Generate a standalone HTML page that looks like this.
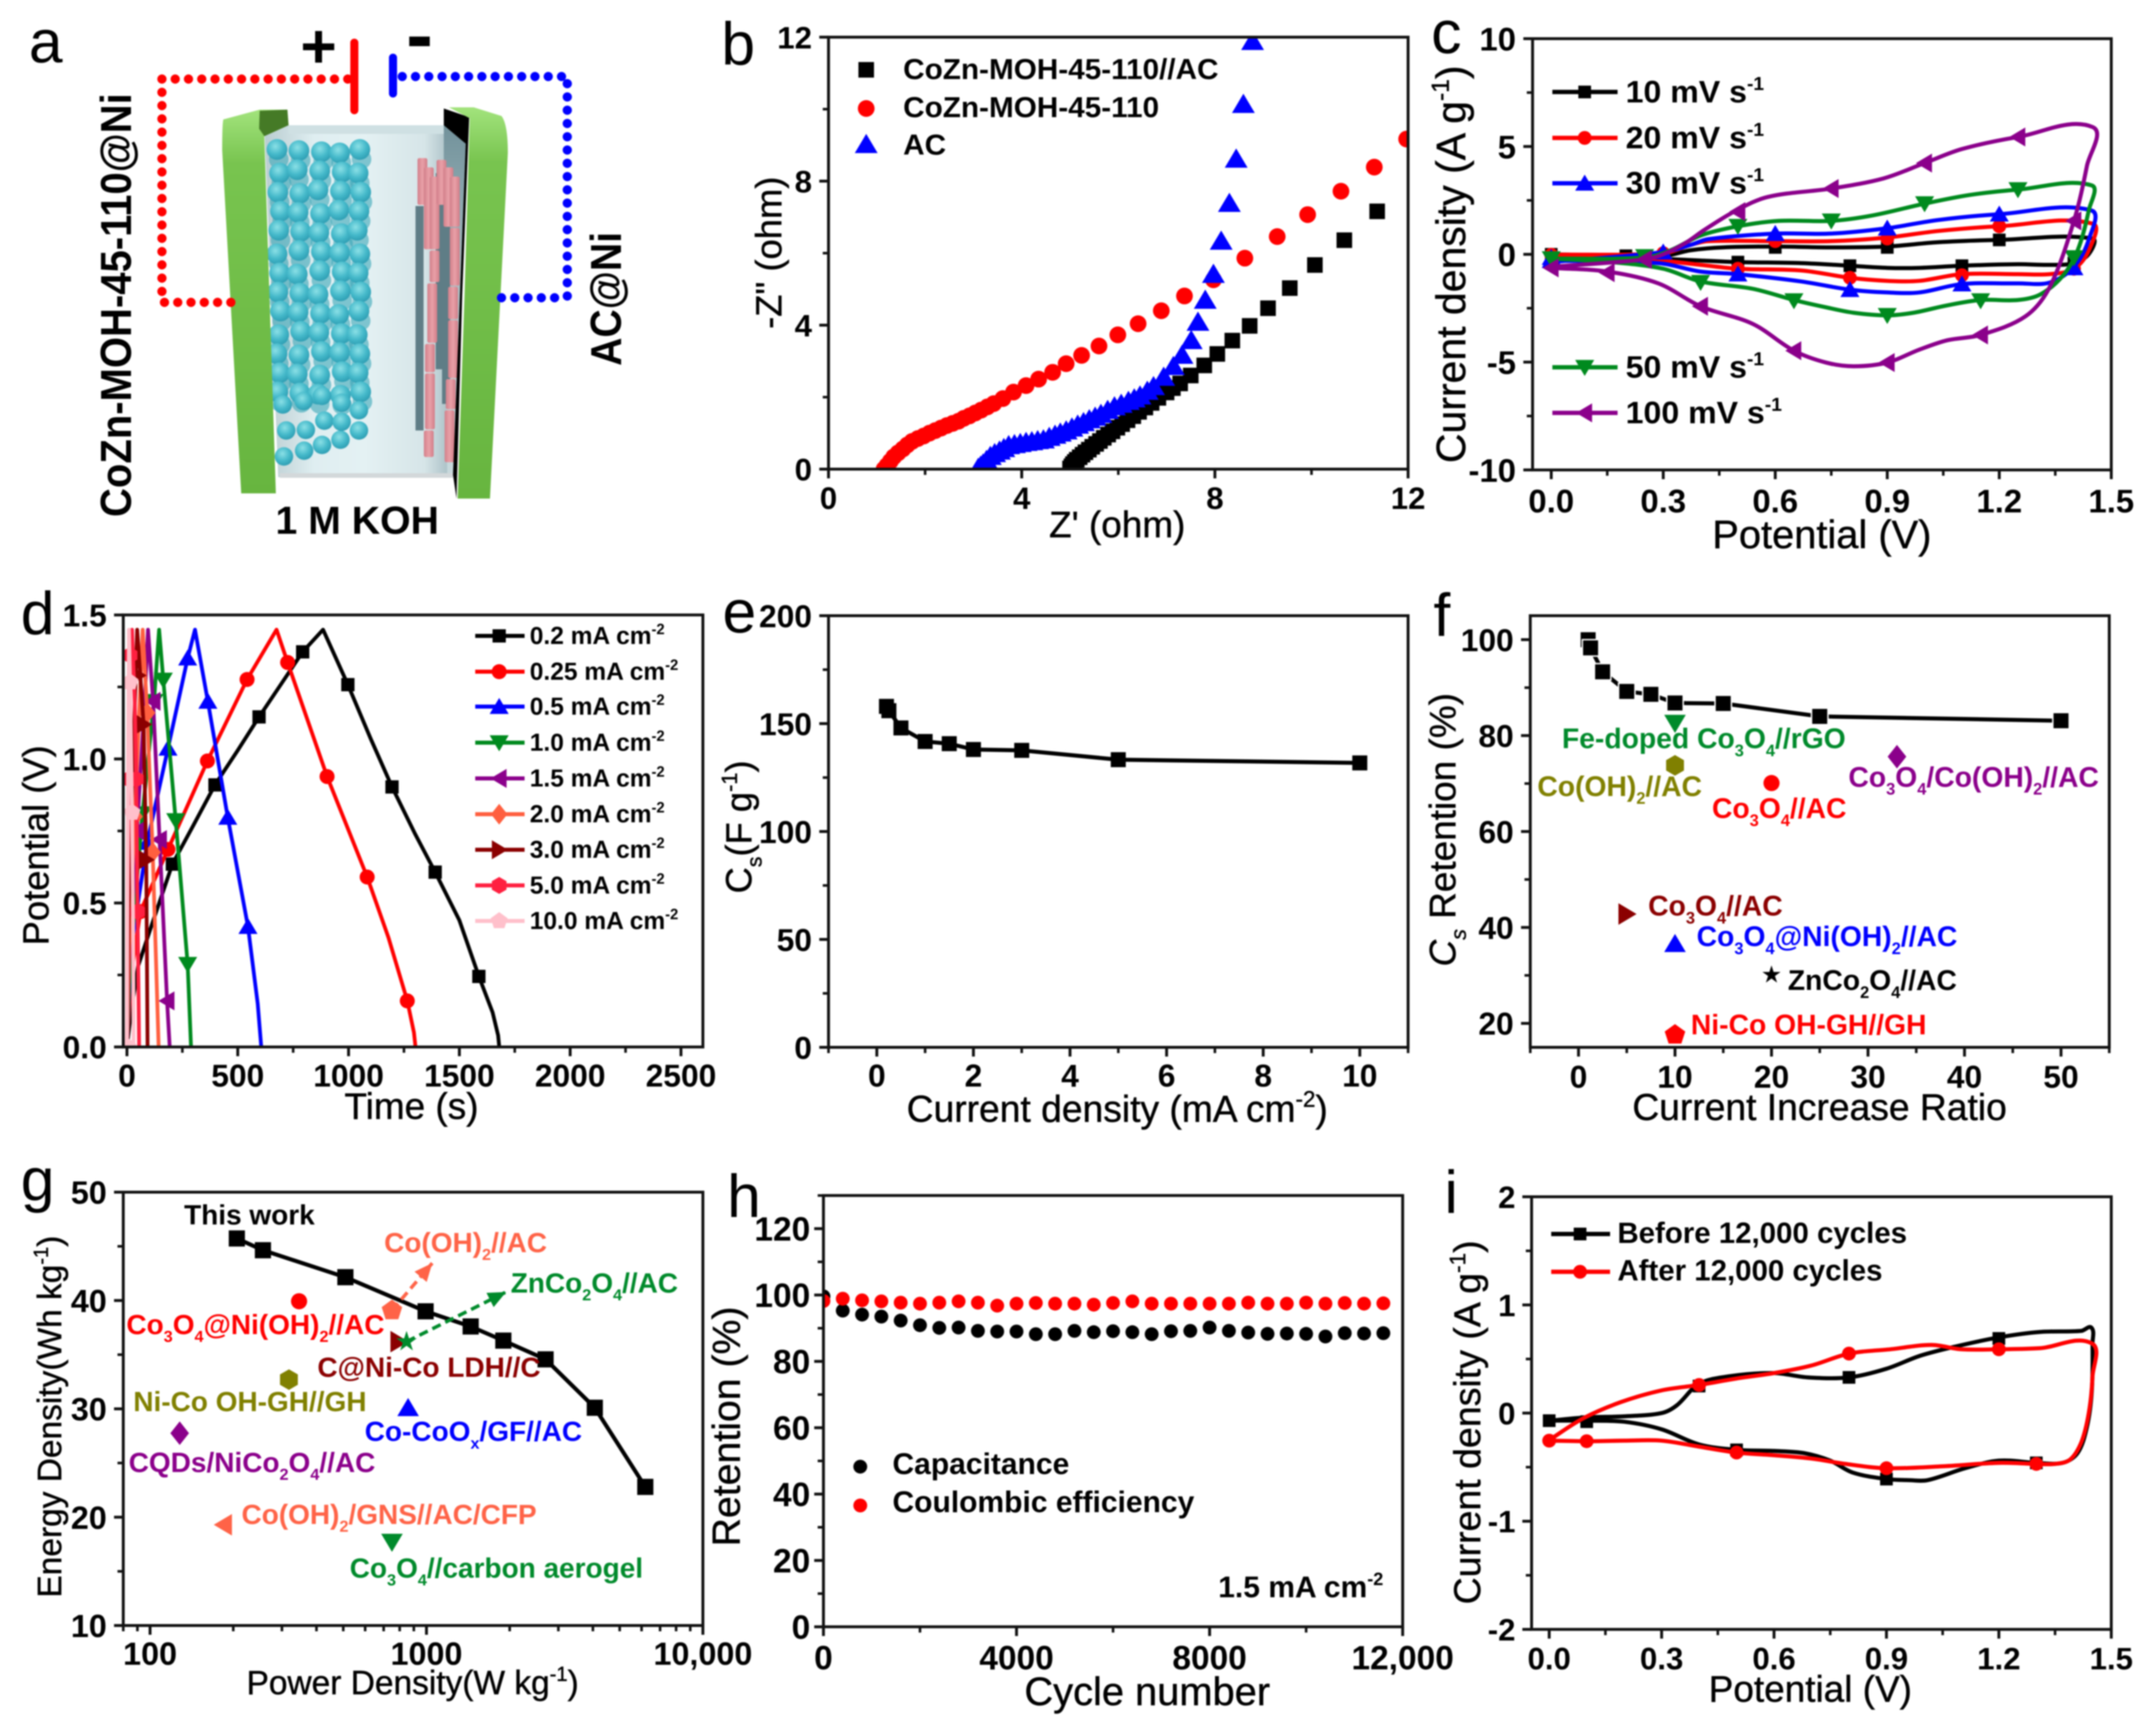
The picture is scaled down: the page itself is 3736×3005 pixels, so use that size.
<!DOCTYPE html>
<html lang="en">
<head>
<meta charset="utf-8">
<title>Supercapacitor figure panels a-i</title>
<style>
html,body{margin:0;padding:0;background:#fff;}
body{width:3736px;height:3005px;overflow:hidden;}
#figure{display:block;filter:blur(1.3px);font-family:"Liberation Sans",sans-serif;}
</style>
</head>
<body>
<svg id="figure" xmlns="http://www.w3.org/2000/svg" width="3736" height="3005" viewBox="0 0 3736 3005">
<defs>
<linearGradient id="plate-left" x1="0" y1="0" x2="0" y2="1"><stop offset="0" stop-color="#a2e37c"/><stop offset=".14" stop-color="#78c44f"/><stop offset="1" stop-color="#67b53f"/></linearGradient>
<linearGradient id="electrolyte" x1="0" y1="0" x2="1" y2="0"><stop offset="0" stop-color="#b9ccd0"/><stop offset=".25" stop-color="#dfeef1"/><stop offset=".5" stop-color="#e4f1f3"/><stop offset=".8" stop-color="#d6e5e8"/><stop offset="1" stop-color="#8fa9b0"/></linearGradient>
<linearGradient id="right-shade" x1="0" y1="0" x2="0" y2="1"><stop offset="0" stop-color="#72929b"/><stop offset=".45" stop-color="#a9bfc4"/><stop offset="1" stop-color="#c8d9dc"/></linearGradient>
<radialGradient id="ball" cx=".42" cy=".35" r=".65"><stop offset="0" stop-color="#8be0e6"/><stop offset=".6" stop-color="#45b9ca"/><stop offset="1" stop-color="#2f9fb4"/></radialGradient>
<linearGradient id="rod" x1="0" y1="0" x2="1" y2="0"><stop offset="0" stop-color="#d27f8a"/><stop offset=".5" stop-color="#e9a1a8"/><stop offset="1" stop-color="#d17d88"/></linearGradient>
</defs>
<g id="panel-a">
<polygon points="458,217 805,217 785,827 482,827" fill="url(#electrolyte)"/>
<polygon points="500,217 770,217 770,232 500,232" fill="#cfe0e3"/>
<polygon points="769,217 807,249 797,510 785,823 775,823 769,420" fill="url(#right-shade)"/>
<rect x="485" y="820" width="300" height="8" fill="#d3d8da"/>
<g id="a-balls"></g>
<g id="a-rods"></g>
<path d="M387,207 L450,190 L498,190 L500,217 L458,236 L478,855 L418,855 L385,260 Q385,215 387,207 Z" fill="url(#plate-left)"/>
<polygon points="450,192 498,190 500,217 458,236 449,223" fill="#457a26"/>
<polygon points="769,188 813,203 801,510 791,864 785,823 797,510 807,249 769,217" fill="#000"/>
<path d="M778,186 L821,186 L869,201 Q880,215 880,265 L849,864 L793,864 L805,510 L814,205 Z" fill="url(#plate-left)"/>
<line x1="614" y1="74" x2="614" y2="191" stroke="#ff0000" stroke-width="14" stroke-linecap="round"/>
<line x1="681" y1="100" x2="681" y2="162" stroke="#0000ff" stroke-width="14" stroke-linecap="round"/>
<g id="a-red-wire"></g>
<g id="a-blue-wire"></g>
<text x="552" y="117" text-anchor="middle" font-size="108" font-weight="700" fill="#000">+</text>
<text x="727" y="108" text-anchor="middle" font-size="140" font-weight="700" fill="#000">-</text>
<text transform="translate(227,896) rotate(-90) scale(.925,1)" font-size="75" font-weight="700" fill="#000">CoZn-MOH-45-110@Ni</text>
<text transform="translate(1076,634) rotate(-90) scale(.905,1)" font-size="75" font-weight="700" fill="#000">AC@Ni</text>
<text x="619" y="925" text-anchor="middle" font-size="68" font-weight="700" fill="#000">1 M KOH</text>
<text x="50" y="108" font-size="105" fill="#000">a</text>
</g>
<g id="charts"></g>
</svg>
<script>
/* ---------- panel b ---------- */
const bXTicks=[0,4,8,12];
const bXLabels=['0','4','8','12'];
const bXMinor=[2,6,10];
const bYTicks=[0,4,8,12];
const bYLabels=['0','4','8','12'];
const bYMinor=[2,6,10];
const bDevice=[[5.00,0.02],[5.03,0.08],[5.06,0.14],[5.1,0.2],[5.14,0.26],[5.2,0.33],[5.26,0.40],[5.32,0.47],[5.39,0.54],[5.46,0.62],[5.54,0.70],[5.62,0.78],[5.7,0.87],[5.79,0.96],[5.88,1.05],[5.98,1.15],[6.08,1.25],[6.19,1.36],[6.31,1.47],[6.43,1.59],[6.56,1.71],[6.69,1.84],[6.83,1.98],[7.0,2.13],[7.13,2.25],[7.28,2.38],[7.5,2.6],[7.78,2.88],[8.05,3.2],[8.36,3.57],[8.72,3.98],[9.1,4.47],[9.55,5.03],[10.07,5.67],[10.68,6.36],[11.36,7.16]];
const bMoh=[[1.15,0],[1.21,.1],[1.28,.22],[1.35,.34],[1.44,.45],[1.54,.56],[1.63,.67],[1.73,.77],[1.85,.85],[1.97,.92],[2.09,1.0],[2.21,1.07],[2.33,1.14],[2.45,1.21],[2.57,1.27],[2.69,1.33],[2.8,1.41],[2.92,1.48],[3.04,1.56],[3.16,1.64],[3.29,1.73],[3.42,1.82],[3.61,1.96],[3.83,2.14],[4.09,2.32],[4.35,2.5],[4.64,2.69],[4.92,2.93],[5.24,3.16],[5.6,3.42],[5.99,3.73],[6.41,4.04],[6.89,4.4],[7.37,4.81],[7.97,5.26],[8.62,5.86],[9.29,6.46],[9.92,7.07],[10.61,7.72],[11.3,8.39],[11.97,9.17]];
const bAc=[[3.1,.03],[3.15,.09],[3.2,.15],[3.27,.25],[3.35,.36],[3.44,.44],[3.54,.51],[3.63,.58],[3.73,.66],[3.85,.69],[3.97,.72],[4.09,.75],[4.21,.77],[4.33,.8],[4.45,.82],[4.57,.89],[4.69,.95],[4.8,1.01],[4.92,1.07],[5.04,1.15],[5.16,1.23],[5.28,1.3],[5.4,1.38],[5.52,1.45],[5.64,1.53],[5.78,1.64],[5.92,1.74],[6.06,1.81],[6.21,1.89],[6.33,1.96],[6.45,2.04],[6.6,2.17],[6.73,2.3],[6.94,2.56],[7.14,2.86],[7.32,3.17],[7.51,3.58],[7.65,4.09],[7.8,4.7],[7.97,5.42],[8.13,6.34],[8.3,7.39],[8.44,8.62],[8.59,10.14],[8.78,11.89]];
/* ---------- panel c ---------- */
const cXTicks=[0,.3,.6,.9,1.2,1.5];
const cXLabels=['0.0','0.3','0.6','0.9','1.2','1.5'];
const cXMinor=[.15,.45,.75,1.05,1.35];
const cYTicks=[-10,-5,0,5,10];
const cYLabels=['-10','-5','0','5','10'];
const cYMinor=[-7.5,-2.5,2.5,7.5];
const c10Line=[[0,0],[.3,-.07],[.374,.19],[.46,.32],[.6,.36],[.75,.32],[.9,.36],[1.036,.56],[1.2,.67],[1.45,.73],[1.44,.02],[1.4,-.41],[1.335,-.49],[1.25,-.46],[1.1,-.53],[.986,-.63],[.9,-.63],[.8,-.53],[.67,-.41],[.5,-.36],[.4,-.29],[.287,-.2],[0,-.03]];
const c10Marks=[[0,0],[.2,-.07],[.6,.32],[.9,.32],[1.2,.67],[1.4,-.41],[1.1,-.53],[.8,-.53],[.5,-.36]];
const c20Line=[[0,-.02],[.3,.05],[.374,.44],[.42,.61],[.6,.61],[.75,.61],[.9,.78],[1.036,1.08],[1.2,1.3],[1.45,1.42],[1.44,.19],[1.4,-.67],[1.335,-.92],[1.25,-.92],[1.1,-.92],[.986,-1.23],[.9,-1.23],[.8,-1.09],[.67,-.75],[.5,-.67],[.4,-.49],[.287,-.29],[0,-.15]];
const c20Marks=[[0,-.02],[.3,.05],[.6,.61],[.9,.73],[1.2,1.3],[1.4,-.67],[1.1,-.97],[.8,-1.09],[.5,-.67]];
const c30Line=[[0,-.36],[.3,.1],[.374,.44],[.42,.7],[.6,.96],[.75,.96],[.9,1.21],[1.036,1.59],[1.2,1.86],[1.447,2.03],[1.44,.7],[1.4,-.58],[1.335,-1.31],[1.25,-1.35],[1.1,-1.38],[.986,-1.77],[.9,-1.77],[.8,-1.64],[.67,-1.26],[.5,-.92],[.4,-.8],[.287,-.41],[0,-.29]];
const c30Marks=[[0,-.15],[.3,.1],[.6,.96],[.9,1.21],[1.2,1.86],[1.4,-.63],[1.1,-1.38],[.8,-1.64],[.5,-.92],[0,-.29]];
const c50Line=[[0,-.2],[.25,-.15],[.32,.19],[.4,.87],[.5,1.3],[.61,1.55],[.75,1.55],[.86,1.8],[1.0,2.35],[1.12,2.75],[1.25,3.0],[1.447,3.2],[1.44,2.06],[1.41,.19],[1.37,-1.0],[1.31,-1.86],[1.25,-2.12],[1.15,-2.12],[1.06,-2.37],[.97,-2.71],[.9,-2.83],[.81,-2.71],[.736,-2.46],[.65,-2.12],[.54,-1.6],[.4,-1.26],[.3,-.67],[.16,-.36],[0,-.2]];
const c50Marks=[[0,-.2],[.25,-.1],[.5,1.3],[.75,1.55],[1.0,2.35],[1.25,3.0],[1.4,-.15],[1.15,-2.15],[.9,-2.83],[.65,-2.15],[.4,-1.3]];
const c100Line=[[0,-.58],[.25,-.24],[.3,0],[.36,.53],[.41,1.13],[.49,1.98],[.58,2.66],[.75,3.05],[.89,3.52],[1.0,4.23],[1.1,4.88],[1.25,5.44],[1.45,5.9],[1.435,4.11],[1.4,1.55],[1.335,-1.52],[1.27,-2.88],[1.15,-3.74],[1.06,-3.99],[.986,-4.42],[.9,-5.02],[.81,-5.19],[.736,-5.02],[.65,-4.47],[.54,-3.23],[.4,-2.41],[.287,-1.35],[.15,-.8],[0,-.63]];
const c100Marks=[[.25,-.24],[.5,1.98],[.75,3.05],[1.0,4.23],[1.25,5.44],[1.4,1.55],[1.15,-3.74],[.9,-5.02],[.65,-4.47],[.4,-2.41],[.15,-.85],[0,-.63]];
/* ---------- panel d ---------- */
const dXTicks=[0,500,1000,1500,2000,2500];
const dXLabels=['0','500','1000','1500','2000','2500'];
const dXMinor=[250,750,1250,1750,2250];
const dYTicks=[0,.5,1,1.5];
const dYLabels=['0.0','0.5','1.0','1.5'];
const dYMinor=[.25,.75,1.25];
const d02Line=[[0,0],[15,.1],[50,.28],[110,.42],[205,.635],[300,.77],[397,.91],[500,1.03],[596,1.146],[700,1.265],[793,1.372],[885,1.449],[940,1.355],[997,1.258],[1100,1.07],[1196,.903],[1300,.74],[1391,.607],[1500,.44],[1588,.245],[1650,.12],[1675,.04],[1680,0]];
const d02Marks=[[205,.635],[397,.91],[596,1.146],[793,1.372],[997,1.258],[1196,.903],[1391,.607],[1588,.245]];
const d025Line=[[0,0],[20,.25],[60,.47],[185,.686],[363,.993],[542,1.276],[675,1.449],[725,1.335],[903,.939],[1084,.59],[1180,.38],[1265,.16],[1295,.05],[1302,0]];
const d025Marks=[[60,.47],[185,.686],[363,.993],[542,1.276],[725,1.335],[903,.939],[1084,.59],[1265,.16]];
const d05Line=[[0,0],[20,.35],[91,.71],[185,1.037],[274,1.35],[307,1.449],[365,1.2],[455,.797],[546,.418],[590,.15],[606,0]];
const d05Marks=[[91,.71],[185,1.037],[274,1.35],[365,1.2],[455,.797],[546,.418]];
const d10Line=[[0,0],[15,.3],[70,.81],[122,1.2],[145,1.449],[164,1.274],[220,.786],[274,.287],[289,0]];
const d10Marks=[[70,.81],[122,1.2],[164,1.274],[220,.786],[274,.287]];
const d15Line=[[0,0],[10,.3],[45,.75],[80,1.2],[95,1.449],[118,1.2],[147,.72],[181,.16],[193,0]];
const d15Marks=[[45,.75],[118,1.2],[147,.72],[181,.16]];
const d20Line=[[0,0],[10,.35],[35,.8],[60,1.25],[71,1.449],[91,1.16],[116,.676],[143,0]];
const d20Marks=[[35,.8],[91,1.16],[116,.676]];
const d30Line=[[0,0],[8,.5],[30,1.05],[46,1.449],[60,1.29],[75,1.12],[87,.65],[93,0]];
const d30Marks=[[50,1.29],[75,1.12],[87,.65]];
const d50Line=[[0,0],[3,.5],[8,1.0],[14,1.25],[23,1.449],[35,1.2],[42,.93],[48,.47],[55,0]];
const d50Marks=[[8,.93],[14,1.36],[42,.93],[48,.47]];
const d100Line=[[0,0],[2,.5],[5,1.0],[9,1.449],[14,1.267],[23,.814],[28,.4],[30,0]];
const d100Marks=[[14,1.267],[23,.814],[5,0]];
/* ---------- panel e ---------- */
const eXTicks=[0,2,4,6,8,10];
const eXLabels=['0','2','4','6','8','10'];
const eXMinor=[-1,1,3,5,7,9,11];
const eYTicks=[0,50,100,150,200];
const eYLabels=['0','50','100','150','200'];
const eYMinor=[25,75,125,175];
const eCurrent=[.2,.25,.5,1,1.5,2,3,5,10];
const eCapacitance=[158,156,148,141.7,140.7,138,137.6,133.3,131.8];
/* ---------- panel f ---------- */
const fXTicks=[0,10,20,30,40,50];
const fXLabels=['0','10','20','30','40','50'];
const fXMinor=[-5,5,15,25,35,45,55];
const fYTicks=[20,40,60,80,100];
const fYLabels=['20','40','60','80','100'];
const fYMinor=[30,50,70,90];
const fRatio=[1,1.25,2.5,5,7.5,10,15,25,50];
const fRetention=[100,98.3,93.3,89.2,88.6,86.8,86.7,84,83.1];
const fOtherRatio=[10,10,20,33,5,10,20,10];
const fOtherRetention=[82.6,73.8,70.1,75.6,42.8,36.6,30.1,17.6];
const fOtherNames=['fe-doped-co3o4','co-oh2','co3o4-red','co3o4-coh2','co3o4-darkred','co3o4-nioh2','znco2o4','ni-co-oh-gh'];
/* ---------- panel g ---------- */
const gXTicks=[100,1000,10000];
const gXLabels=['100','1000','10,000'];
const gXMinor=[80,90,200,300,400,500,600,700,800,900,2000,3000,4000,5000,6000,7000,8000,9000];
const gYTicks=[10,20,30,40,50];
const gYLabels=['10','20','30','40','50'];
const gYMinor=[15,25,35,45];
const gPower=[206,256,509,993,1445,1897,2697,4064,6190];
const gEnergy=[45.73,44.64,42.15,39,37.6,36.3,34.57,30.1,22.8];
const gOtherPower=[346,750,794,847,318,858,128,184.5,750];
const gOtherEnergy=[39.93,39.08,36.2,36.2,32.7,30.1,27.75,19.3,17.7];
const gOtherNames=['co3o4-nioh2','co-oh2','c-ni-co-ldh','znco2o4','ni-co-oh-gh','co-coox','cqds-nico2o4','co-oh2-gns','co3o4-aerogel'];
/* ---------- panel h ---------- */
const hXTicks=[0,4000,8000,12000];
const hXLabels=['0','4000','8000','12,000'];
const hXMinor=[2000,6000,10000];
const hYTicks=[0,20,40,60,80,100,120];
const hYLabels=['0','20','40','60','80','100','120'];
const hYMinor=[10,30,50,70,90,110,130];
const hCycles=[0,400,800,1200,1600,2000,2400,2800,3200,3600,4000,4400,4800,5200,5600,6000,6400,6800,7200,7600,8000,8400,8800,9200,9600,10000,10400,10800,11200,11600];
const hCapacitance=[99.6,95.3,94.1,93.5,92.3,90.9,90.1,90.2,89.2,89,89,88.2,88.2,89.2,88.8,89.1,88.8,88.2,89.1,89.2,90.2,89.2,88.7,88.3,88.4,88.3,87.5,88.5,88.4,88.5];
const hCoulombic=[98.2,98.9,98.4,98.1,97.7,97.4,97.7,98.1,97.7,96.8,97.4,97.6,97.4,97.4,97.1,97.6,98.1,97.4,97.4,97.4,97.4,97.4,97.7,97.4,97.4,97.7,97.4,97.6,97.4,97.5];
/* ---------- panel i ---------- */
const iXTicks=[0,.3,.6,.9,1.2,1.5];
const iXLabels=['0.0','0.3','0.6','0.9','1.2','1.5'];
const iXMinor=[.15,.45,.75,1.05,1.35];
const iYTicks=[-2,-1,0,1,2];
const iYLabels=['-2','-1','0','1','2'];
const iYMinor=[-1.5,-.5,.5,1.5];
const iBeforeLine=[[0,-.07],[.1,-.04],[.2,-.03],[.3,0],[.34,.07],[.4,.27],[.48,.34],[.6,.37],[.69,.33],[.8,.33],[.9,.41],[.99,.53],[1.09,.62],[1.2,.7],[1.31,.75],[1.42,.76],[1.447,.79],[1.45,.65],[1.448,.2],[1.435,-.13],[1.41,-.37],[1.37,-.46],[1.3,-.46],[1.2,-.44],[1.11,-.51],[1.01,-.62],[.96,-.62],[.9,-.61],[.81,-.55],[.75,-.44],[.68,-.37],[.6,-.35],[.5,-.34],[.4,-.29],[.3,-.15],[.2,-.08],[.1,-.07],[0,-.07]];
const iBeforeMarks=[[0,-.07],[.1,-.08],[.4,.25],[.5,-.34],[.8,.33],[.9,-.61],[1.2,.69],[1.3,-.46]];
const iAfterLine=[[0,-.25],[.09,-.05],[.19,.1],[.3,.21],[.4,.26],[.5,.32],[.6,.37],[.7,.44],[.8,.55],[.91,.59],[1.02,.63],[1.1,.59],[1.2,.59],[1.31,.6],[1.448,.645],[1.45,.34],[1.44,0],[1.42,-.27],[1.39,-.43],[1.35,-.47],[1.3,-.47],[1.2,-.46],[1.06,-.49],[.9,-.51],[.79,-.47],[.7,-.42],[.6,-.39],[.5,-.365],[.4,-.31],[.3,-.255],[.2,-.255],[.1,-.26],[0,-.255]];
const iAfterMarks=[[0,-.255],[.1,-.26],[.4,.26],[.5,-.365],[.8,.55],[.9,-.51],[1.2,.59],[1.3,-.47]];

/* ---------- helpers ---------- */
const NS='http://www.w3.org/2000/svg';
const root=document.getElementById('charts');
function el(parent,tag,attrs,name){
  const node=document.createElementNS(NS,tag);
  for(const k in attrs)node.setAttribute(k,attrs[k]);
  
  
  parent.appendChild(node);
  return node;
}
function txt(parent,name,str,x,y,o){
  o=o||{};
  const size=o.size||54;
  const rot=o.rot?' rotate('+o.rot+')':'';
  const sx=o.sx?' scale('+o.sx+',1)':'';
  const a={transform:'translate('+x+','+y+')'+rot+sx,'font-size':size,fill:o.fill||'#000','text-anchor':o.anchor||'start','font-weight':o.bold?700:400};
  if(o.stroke){a.stroke=o.fill||'#000';a['stroke-width']=o.stroke;}
  const t=el(parent,'text',a,name);
  const parts=str.split(/([_^]\{[^}]*\})/);
  let shift=0,idx=0;
  parts.forEach(function(p){
    if(!p)return;
    const span=document.createElementNS(NS,'tspan');
    let target=0,content=p;
    if(p[0]==='_'&&p[1]==='{'){target=size*.28;content=p.slice(2,-1);span.setAttribute('font-size',size*.58);}
    else if(p[0]==='^'&&p[1]==='{'){target=-size*.4;content=p.slice(2,-1);span.setAttribute('font-size',size*.6);}
    span.setAttribute('dy',target-shift);
    if(o.italicParts&&idx<o.italicParts)span.setAttribute('font-style','italic');
    shift=target;
    idx++;
    span.textContent=content;
    t.appendChild(span);
  });
  return t;
}
function markerPath(type,x,y,r){
  const pts=function(a){return 'M'+a.map(function(p){return (x+p[0]).toFixed(1)+' '+(y+p[1]).toFixed(1);}).join('L')+'Z';};
  const ring=function(n,rr,start){const a=[];for(let i=0;i<n;i++){const t=start+i*2*Math.PI/n;a.push([rr*Math.cos(t),rr*Math.sin(t)]);}return a;};
  switch(type){
    case 'square':return pts([[-r,-r],[r,-r],[r,r],[-r,r]]);
    case 'circle':return 'M'+(x-r)+' '+y+'a'+r+' '+r+' 0 1 0 '+(2*r)+' 0a'+r+' '+r+' 0 1 0 '+(-2*r)+' 0Z';
    case 'up':return pts([[0,-r],[r*1.1,r*.85],[-r*1.1,r*.85]]);
    case 'down':return pts([[0,r],[r*1.1,-r*.85],[-r*1.1,-r*.85]]);
    case 'left':return pts([[-r,0],[r*.85,-r*1.1],[r*.85,r*1.1]]);
    case 'right':return pts([[r,0],[-r*.85,-r*1.1],[-r*.85,r*1.1]]);
    case 'diamond':return pts([[0,-r*1.2],[r*.95,0],[0,r*1.2],[-r*.95,0]]);
    case 'hex':return pts(ring(6,r*1.05,-Math.PI/2));
    case 'pent':return pts(ring(5,r*1.1,-Math.PI/2));
    case 'star':{const a=[];for(let i=0;i<10;i++){const t=-Math.PI/2+i*Math.PI/5;const q=i%2?r*.42:r*1.1;a.push([q*Math.cos(t),q*Math.sin(t)]);}return pts(a);}
  }
  return '';
}
function mark(parent,name,type,x,y,r,fill,halo){
  const a={d:markerPath(type,x,y,r),fill:fill};
  if(halo){a.stroke='#fff';a['stroke-width']=halo;a['paint-order']='stroke';}
  return el(parent,'path',a,name);
}
function smooth(p){
  let d='M'+p[0][0].toFixed(1)+' '+p[0][1].toFixed(1);
  const tan=function(a,c){const dx=c[0]-a[0],dy=c[1]-a[1],n=Math.hypot(dx,dy)||1;return [dx/n,dy/n];};
  for(let i=0;i<p.length-1;i++){
    const a=p[Math.max(0,i-1)],b=p[i],c=p[i+1],e=p[Math.min(p.length-1,i+2)];
    const len=Math.hypot(c[0]-b[0],c[1]-b[1])*.33;
    const t1=tan(a,c),t2=tan(b,e);
    d+='C'+(b[0]+t1[0]*len).toFixed(1)+' '+(b[1]+t1[1]*len).toFixed(1)+' '+(c[0]-t2[0]*len).toFixed(1)+' '+(c[1]-t2[1]*len).toFixed(1)+' '+c[0].toFixed(1)+' '+c[1].toFixed(1);
  }
  return d;
}
function poly(p){return 'M'+p.map(function(q){return q[0].toFixed(1)+' '+q[1].toFixed(1);}).join('L');}
function axes(c){
  const g=el(root,'g',{},c.id+'-panel');
  const l=c.box[0],t=c.box[1],r=c.box[2],b=c.box[3];
  const lg=function(v){return Math.log10(v);};
  const x0=c.log?lg(c.xDomain[0]):c.xDomain[0],x1=c.log?lg(c.xDomain[1]):c.xDomain[1];
  const X=function(v){return l+((c.log?lg(v):v)-x0)/(x1-x0)*(r-l);};
  const Y=function(v){return b-(v-c.yDomain[0])/(c.yDomain[1]-c.yDomain[0])*(b-t);};
  const defs=el(g,'clipPath',{id:'clip-'+c.id},c.id+'-clip');
  el(defs,'rect',{x:l,y:t,width:r-l,height:b-t},c.id+'-clip-rect');
  const plot=el(g,'g',{'clip-path':'url(#clip-'+c.id+')'},c.id+'-plot-area');
  const size=c.tickSize||55;
  const ink='#111';
  c.xTicks.forEach(function(v,i){
    el(g,'line',{x1:X(v),x2:X(v),y1:b,y2:b+16,stroke:ink,'stroke-width':5},c.id+'-x-tick');
    txt(g,c.id+'-x-tick-label',c.xLabels[i],X(v),c.xLabelY,{size:size,bold:true,anchor:'middle'});
  });
  c.xMinor.forEach(function(v){el(g,'line',{x1:X(v),x2:X(v),y1:b,y2:b+10,stroke:ink,'stroke-width':4.5},c.id+'-x-minor-tick');});
  c.yTicks.forEach(function(v,i){
    el(g,'line',{x1:l,x2:l-16,y1:Y(v),y2:Y(v),stroke:ink,'stroke-width':5},c.id+'-y-tick');
    txt(g,c.id+'-y-tick-label',c.yLabels[i],c.yLabelX,Y(v)+size*.36,{size:size,bold:true,anchor:'end'});
  });
  c.yMinor.forEach(function(v){el(g,'line',{x1:l,x2:l-10,y1:Y(v),y2:Y(v),stroke:ink,'stroke-width':4.5},c.id+'-y-minor-tick');});
  el(g,'rect',{x:l,y:t,width:r-l,height:b-t,fill:'none',stroke:ink,'stroke-width':5},c.id+'-plot-frame');
  txt(g,c.id+'-x-axis-title',c.xTitle[0],c.xTitle[1],c.xTitle[2],{size:c.xTitle[3],anchor:'middle',stroke:.7});
  txt(g,c.id+'-y-axis-title',c.yTitle[0],c.yTitle[1],c.yTitle[2],{size:c.yTitle[3],anchor:'middle',rot:-90,stroke:.7,italicParts:c.yTitle[4]||0});
  txt(g,'panel-letter-'+c.id,c.letter[0],c.letter[1],c.letter[2],{size:105});
  return {g:g,plot:plot,X:X,Y:Y};
}
function linePts(ax,arr){return arr.map(function(p){return [ax.X(p[0]),ax.Y(p[1])];});}
function series(ax,name,line,marks,color,type,r,w,curved){
  const s=el(ax.plot,'g',{},name+'-series');
  el(s,'path',{d:curved?smooth(linePts(ax,line)):poly(linePts(ax,line)),fill:'none',stroke:color,'stroke-width':w||6.5,'stroke-linejoin':'round'},name+'-line');
  marks.forEach(function(p){mark(s,name+'-marker',type,ax.X(p[0]),ax.Y(p[1]),r,color);});
}
function legendRow(ax,name,x1,x2,mx,y,color,type,r,w,label,tx,ty,size,sx){
  const row=el(ax.g,'g',{},name+'-legend-entry');
  el(row,'line',{x1:x1,x2:x2,y1:y,y2:y,stroke:color,'stroke-width':w},name+'-legend-line');
  mark(row,name+'-legend-marker',type,mx,y,r,color);
  txt(row,name+'-legend-label',label,tx,ty,{size:size,bold:true,sx:sx});
}

/* ---------- panel a generated parts ---------- */
(function(){
  const ballsG=document.getElementById('a-balls');
  const colX=[483,518,554,590,622];
  colX.forEach(function(cx,i){
    for(let j=0;j<13;j++){
      const jx=((i*7+j*13)%5-2)*1.5, jy=((i*5+j*3)%4-1.5)*2;
      const yy=262+j*35+jy;
      el(ballsG,'circle',{cx:cx+jx+3,cy:yy+17,r:17,fill:'#3aa6b8',opacity:.6},'back-sphere');
    }
    for(let j=0;j<13;j++){
      const jx=((i*7+j*13)%5-2)*1.5, jy=((i*5+j*3)%4-1.5)*2;
      const yy=262+j*35+jy;
      el(ballsG,'circle',{cx:cx+jx,cy:yy,r:18,fill:'url(#ball)'},'sphere');
    }
  });
  const loose=[[492,791],[527,781],[558,771],[590,762],[622,746],[496,746],[530,745],[562,729],[592,731],[622,711],[490,701],[526,695],[558,686],[592,698]];
  loose.forEach(function(p){el(ballsG,'circle',{cx:p[0],cy:p[1],r:16,fill:'url(#ball)'},'loose-sphere');});
  const rodsG=document.getElementById('a-rods');
  const dark=[[727,357,746],[773,357,700],[762,300,640]];
  dark.forEach(function(r){el(rodsG,'rect',{x:r[0]-7,y:r[1],width:14,height:r[2]-r[1],fill:'#5f7d86'},'rod-shadow');});
  const rods=[[732,274,357],[743,290,434],[753,306,434],[753,434,491],[749,491,596],[745,596,647],[745,647,746],[743,746,794],[765,277,357],[777,290,395],[788,306,395],[788,395,497],[785,497,555],[785,555,657],[781,657,711],[779,711,803]];
  rods.forEach(function(r){el(rodsG,'rect',{x:r[0]-8.5,y:r[1],width:17,height:r[2]-r[1]-2,rx:3,fill:'url(#rod)'},'rod');});
  const red=document.getElementById('a-red-wire');
  for(let x=280.6;x<=606;x+=23)el(red,'circle',{cx:x,cy:137,r:8,fill:'#ff0000'},'red-dot');
  for(let y=160;y<=510;y+=23)el(red,'circle',{cx:280.6,cy:y,r:8,fill:'#ff0000'},'red-dot');
  for(let x=285;x<=405;x+=23)el(red,'circle',{cx:x,cy:524,r:8,fill:'#ff0000'},'red-dot');
  const blue=document.getElementById('a-blue-wire');
  for(let x=697;x<=975;x+=23)el(blue,'circle',{cx:x,cy:132.6,r:8,fill:'#0000ff'},'blue-dot');
  for(let y=145;y<=516;y+=23)el(blue,'circle',{cx:983,cy:y,r:8,fill:'#0000ff'},'blue-dot');
  for(let x=869;x<=975;x+=23)el(blue,'circle',{cx:x,cy:516,r:8,fill:'#0000ff'},'blue-dot');
})();

/* ---------- panel b ---------- */
(function(){
  const ax=axes({id:'b',letter:['b',1250,112],box:[1435.7,64.4,2440,813],xDomain:[0,12],yDomain:[0,12],xTicks:bXTicks,xLabels:bXLabels,xMinor:bXMinor,yTicks:bYTicks,yLabels:bYLabels,yMinor:bYMinor,xLabelY:882,yLabelX:1407,tickSize:54,xTitle:["Z' (ohm)",1936,931,64],yTitle:['-Z" (ohm)',1354,438,63]});
  bDevice.forEach(function(p){mark(ax.plot,'device-impedance-point','square',ax.X(p[0]),ax.Y(p[1]),13.5,'#000');});
  bMoh.forEach(function(p){mark(ax.plot,'moh-impedance-point','circle',ax.X(p[0]),ax.Y(p[1]),14.5,'#ff0000');});
  bAc.forEach(function(p){mark(ax.plot,'ac-impedance-point','up',ax.X(p[0]),ax.Y(p[1]),18,'#0000ff');});
  const rows=[['device','square',121,137,'#000','CoZn-MOH-45-110//AC',13.5],['moh','circle',188,203,'#ff0000','CoZn-MOH-45-110',14.5],['ac','up',250,268,'#0000ff','AC',18]];
  rows.forEach(function(r){
    mark(ax.g,r[0]+'-legend-marker',r[1],1501,r[2],r[6],r[4]);
    txt(ax.g,r[0]+'-legend-label',r[5],1565,r[3],{size:50,bold:true,sx:1.03});
  });
})();

/* ---------- panel c ---------- */
(function(){
  const ax=axes({id:'c',letter:['c',2480,92],box:[2655.7,67,3658.5,814.4],xDomain:[-.05,1.5],yDomain:[-10,10],xTicks:cXTicks,xLabels:cXLabels,xMinor:cXMinor,yTicks:cYTicks,yLabels:cYLabels,yMinor:cYMinor,xLabelY:888,yLabelX:2627,tickSize:57,xTitle:['Potential (V)',3157,950,69],yTitle:['Current density (A g^{-1})',2539,458,71]});
  const B='#0000ff',R='#ff0000',G='#008a1e',P='#8b008b';
  series(ax,'scan-10',c10Line,c10Marks,'#000','square',11,7,true);
  series(ax,'scan-20',c20Line,c20Marks,R,'circle',12,7,true);
  series(ax,'scan-30',c30Line,c30Marks,B,'up',15,7,true);
  series(ax,'scan-50',c50Line,c50Marks,G,'down',15,7,true);
  series(ax,'scan-100',c100Line,c100Marks,P,'left',15,7,true);
  const rows=[['scan-10','#000','square',159.4,'10 mV s^{-1}',11],['scan-20',R,'circle',239,'20 mV s^{-1}',12],['scan-30',B,'up',317.6,'30 mV s^{-1}',15],['scan-50',G,'down',636.5,'50 mV s^{-1}',15],['scan-100',P,'left',715.5,'100 mV s^{-1}',15]];
  rows.forEach(function(r){legendRow(ax,r[0],2690,2803,2746,r[3],r[1],r[2],r[5],7.5,r[4],2817,r[3]+18,54,1.03);});
})();

/* ---------- panel d ---------- */
(function(){
  const ax=axes({id:'d',letter:['d',36,1099],box:[213.6,1065.7,1218,1814.4],xDomain:[-16.7,2599],yDomain:[0,1.5],xTicks:dXTicks,xLabels:dXLabels,xMinor:dXMinor,yTicks:dYTicks,yLabels:dYLabels,yMinor:dYMinor,xLabelY:1883,yLabelX:185,tickSize:55,xTitle:['Time (s)',713,1939,64],yTitle:['Potential (V)',84,1465,63]});
  const list=[
    ['rate-0-2',d02Line,d02Marks,'#000','square','0.2 mA cm^{-2}',11.5],
    ['rate-0-25',d025Line,d025Marks,'#ff0000','circle','0.25 mA cm^{-2}',13],
    ['rate-0-5',d05Line,d05Marks,'#0000ff','up','0.5 mA cm^{-2}',15],
    ['rate-1-0',d10Line,d10Marks,'#008a1e','down','1.0 mA cm^{-2}',15],
    ['rate-1-5',d15Line,d15Marks,'#8b008b','left','1.5 mA cm^{-2}',15],
    ['rate-2-0',d20Line,d20Marks,'#ff5f3f','diamond','2.0 mA cm^{-2}',15],
    ['rate-3-0',d30Line,d30Marks,'#8b0000','right','3.0 mA cm^{-2}',15],
    ['rate-5-0',d50Line,d50Marks,'#ff2040','hex','5.0 mA cm^{-2}',14],
    ['rate-10-0',d100Line,d100Marks,'#ffc0cb','pent','10.0 mA cm^{-2}',14]
  ];
  const ys=[1102,1164,1224.5,1287,1349,1411,1472.6,1534.4,1596];
  list.forEach(function(s,i){
    series(ax,s[0],s[1],s[2],s[3],s[4],s[6],6.5,false);
    legendRow(ax,s[0],823.5,909,865,ys[i],s[3],s[4],s[6],7,s[5],918,ys[i]+14,42.5);
  });
})();

/* ---------- panel e ---------- */
(function(){
  const ax=axes({id:'e',letter:['e',1252,1096],box:[1435.7,1067,2440,1815],xDomain:[-1,11],yDomain:[0,200],xTicks:eXTicks,xLabels:eXLabels,xMinor:eXMinor,yTicks:eYTicks,yLabels:eYLabels,yMinor:eYMinor,xLabelY:1883,yLabelX:1407,tickSize:55,xTitle:['Current density (mA cm^{-2})',1936,1944,64.5],yTitle:['C_{s}(F g^{-1})',1302,1433,63]});
  const pts=eCurrent.map(function(v,i){return [v,eCapacitance[i]];});
  series(ax,'capacitance',pts,pts,'#000','square',13,7,false);
})();

/* ---------- panel f ---------- */
(function(){
  const ax=axes({id:'f',letter:['f',2484,1102],box:[2651.7,1067,3655,1815],xDomain:[-5,55],yDomain:[15,105],xTicks:fXTicks,xLabels:fXLabels,xMinor:fXMinor,yTicks:fYTicks,yLabels:fYLabels,yMinor:fYMinor,xLabelY:1885,yLabelX:2623,tickSize:55,xTitle:['Current Increase Ratio',3153,1941,64.5],yTitle:['C_{s} Retention (%)',2522,1438,64,2]});
  const pts=fRatio.map(function(v,i){return [v,fRetention[i]];});
  el(ax.plot,'path',{d:poly(linePts(ax,pts)),fill:'none',stroke:'#000','stroke-width':7},'retention-line');
  pts.forEach(function(p){mark(ax.plot,'retention-marker','square',ax.X(p[0]),ax.Y(p[1]),13,'#000',5);});
  const types=['down','hex','circle','diamond','right','up','star','pent'];
  const cols=['#008a2b','#808000','#ff0000','#8b008b','#8b0000','#0000ff','#000','#ff0000'];
  fOtherRatio.forEach(function(v,i){
    const other=mark(ax.plot,'literature-point','circle',ax.X(v),ax.Y(fOtherRetention[i]),15,cols[i]);
    other.setAttribute('d',markerPath(types[i],ax.X(v),ax.Y(fOtherRetention[i]),types[i]==='circle'?14:(types[i]==='star'?15:17)));
    
  });
  const labels=[['Fe-doped Co_{3}O_{4}//rGO',2706.6,1296.6,'#008a2b',49],['Co(OH)_{2}//AC',2664,1379.5,'#808000',49],['Co_{3}O_{4}//AC',2966.6,1417.7,'#ff0000',49],['Co_{3}O_{4}/Co(OH)_{2}//AC',3203,1363.5,'#8b008b',49],['Co_{3}O_{4}//AC',2856,1586.7,'#8b0000',49],['Co_{3}O_{4}@Ni(OH)_{2}//AC',2940,1639.7,'#0000ff',49],['ZnCo_{2}O_{4}//AC',3098,1715.6,'#000',49],['Ni-Co OH-GH//GH',2930,1792.7,'#ff0000',49]];
  labels.forEach(function(l,i){txt(ax.g,'annotation-'+fOtherNames[i],l[0],l[1],l[2],{size:l[4],bold:true,fill:l[3]});});
})();

/* ---------- panel g ---------- */
(function(){
  const ax=axes({id:'g',letter:['g',36,2080],box:[213.6,2066,1218,2817],log:true,xDomain:[80,10000],yDomain:[10,50],xTicks:gXTicks,xLabels:gXLabels,xMinor:gXMinor,yTicks:gYTicks,yLabels:gYLabels,yMinor:gYMinor,xLabelY:2885,yLabelX:185,tickSize:56,xTitle:['Power Density(W kg^{-1})',715,2936,58],yTitle:['Energy Density(Wh kg^{-1})',106,2455,58]});
  const pts=gPower.map(function(v,i){return [v,gEnergy[i]];});
  series(ax,'this-work',pts,pts,'#000','square',14,7,false);
  const types=['circle','pent','right','star','hex','up','diamond','left','down'];
  const cols=['#ff0000','#ff6347','#8b0000','#008a2b','#808000','#0000ff','#8b008b','#ff6347','#008a2b'];
  gOtherPower.forEach(function(v,i){
    const r=types[i]==='star'?17:(types[i]==='circle'?14:17);
    const other=mark(ax.plot,'literature-point','circle',ax.X(v),ax.Y(gOtherEnergy[i]),r,cols[i]);
    other.setAttribute('d',markerPath(types[i],ax.X(v),ax.Y(gOtherEnergy[i]),r));
    
  });
  function arrow(name,sx,sy,ex,ey,col){
    el(ax.g,'line',{x1:sx,y1:sy,x2:ex,y2:ey,stroke:col,'stroke-width':6,'stroke-dasharray':'16 9'},name+'-arrow-line');
    const a=Math.atan2(ey-sy,ex-sx),s=34;
    const p=[[ex,ey],[ex-s*Math.cos(a-.42),ey-s*Math.sin(a-.42)],[ex-s*Math.cos(a+.42),ey-s*Math.sin(a+.42)]];
    el(ax.g,'path',{d:poly(p)+'Z',fill:col},name+'-arrow-head');
  }
  arrow('co-oh2',ax.X(gOtherPower[1]),ax.Y(gOtherEnergy[1]),749,2189,'#ff6347');
  arrow('znco2o4',ax.X(gOtherPower[3]),ax.Y(gOtherEnergy[3]),877,2239,'#008a2b');
  const labels=[['This work',319,2122,'#000','this-work'],['Co(OH)_{2}//AC',665.6,2170,'#ff6347','co-oh2'],['ZnCo_{2}O_{4}//AC',885,2240,'#008a2b','znco2o4'],['Co_{3}O_{4}@Ni(OH)_{2}//AC',219,2312,'#ff0000','co3o4-nioh2'],['C@Ni-Co LDH//C',550,2386,'#8b0000','c-ni-co-ldh'],['Ni-Co OH-GH//GH',231,2445.5,'#808000','ni-co-oh-gh'],['Co-CoO_{x}/GF//AC',632,2497,'#0000ff','co-coox'],['CQDs/NiCo_{2}O_{4}//AC',223,2551,'#8b008b','cqds-nico2o4'],['Co(OH)_{2}/GNS//AC/CFP',418.5,2641,'#ff6347','co-oh2-gns'],['Co_{3}O_{4}//carbon aerogel',606,2734,'#008a2b','co3o4-aerogel']];
  labels.forEach(function(l){txt(ax.g,'annotation-'+l[4],l[0],l[1],l[2],{size:48.5,bold:true,fill:l[3]});});
})();

/* ---------- panel h ---------- */
(function(){
  const ax=axes({id:'h',letter:['h',1260,2109],box:[1426.9,2071.8,2430.6,2819.2],xDomain:[0,12000],yDomain:[0,130],xTicks:hXTicks,xLabels:hXLabels,xMinor:hXMinor,yTicks:hYTicks,yLabels:hYLabels,yMinor:hYMinor,xLabelY:2893,yLabelX:1404,tickSize:58,xTitle:['Cycle number',1988,2955,69],yTitle:['Retention (%)',1282,2472,68]});
  hCycles.forEach(function(v,i){mark(ax.plot,'capacitance-retention-point','circle',ax.X(v),ax.Y(hCapacitance[i]),12,'#000');});
  hCycles.forEach(function(v,i){mark(ax.plot,'coulombic-efficiency-point','circle',ax.X(v),ax.Y(hCoulombic[i]),12,'#ff0000');});
  mark(ax.g,'capacitance-legend-marker','circle',1490.7,2541.7,12,'#000');
  txt(ax.g,'capacitance-legend-label','Capacitance',1546.5,2554.5,{size:52,bold:true});
  mark(ax.g,'coulombic-legend-marker','circle',1490.7,2609,12,'#ff0000');
  txt(ax.g,'coulombic-legend-label','Coulombic efficiency',1546.5,2620.5,{size:52,bold:true});
  txt(ax.g,'current-density-note','1.5 mA cm^{-2}',2111,2768,{size:52,bold:true});
})();

/* ---------- panel i ---------- */
(function(){
  const ax=axes({id:'i',letter:['i',2503,2102],box:[2654,2074,3658.5,2823.7],xDomain:[-.047,1.5],yDomain:[-2,2],xTicks:iXTicks,xLabels:iXLabels,xMinor:iXMinor,yTicks:iYTicks,yLabels:iYLabels,yMinor:iYMinor,xLabelY:2893,yLabelX:2626,tickSize:54,xTitle:['Potential (V)',3137,2949,64],yTitle:['Current density (A g^{-1})',2565,2465,65]});
  series(ax,'before-cycling',iBeforeLine,iBeforeMarks,'#000','square',11,7,true);
  series(ax,'after-cycling',iAfterLine,iAfterMarks,'#ff0000','circle',12,7,true);
  legendRow(ax,'before-cycling',2688,2790,2738,2138.5,'#000','square',11,7.5,'Before 12,000 cycles',2802.7,2154,51);
  legendRow(ax,'after-cycling',2688,2790,2738,2204,'#ff0000','circle',12,7.5,'After 12,000 cycles',2802.7,2219,51);
})();
</script>
</body>
</html>
